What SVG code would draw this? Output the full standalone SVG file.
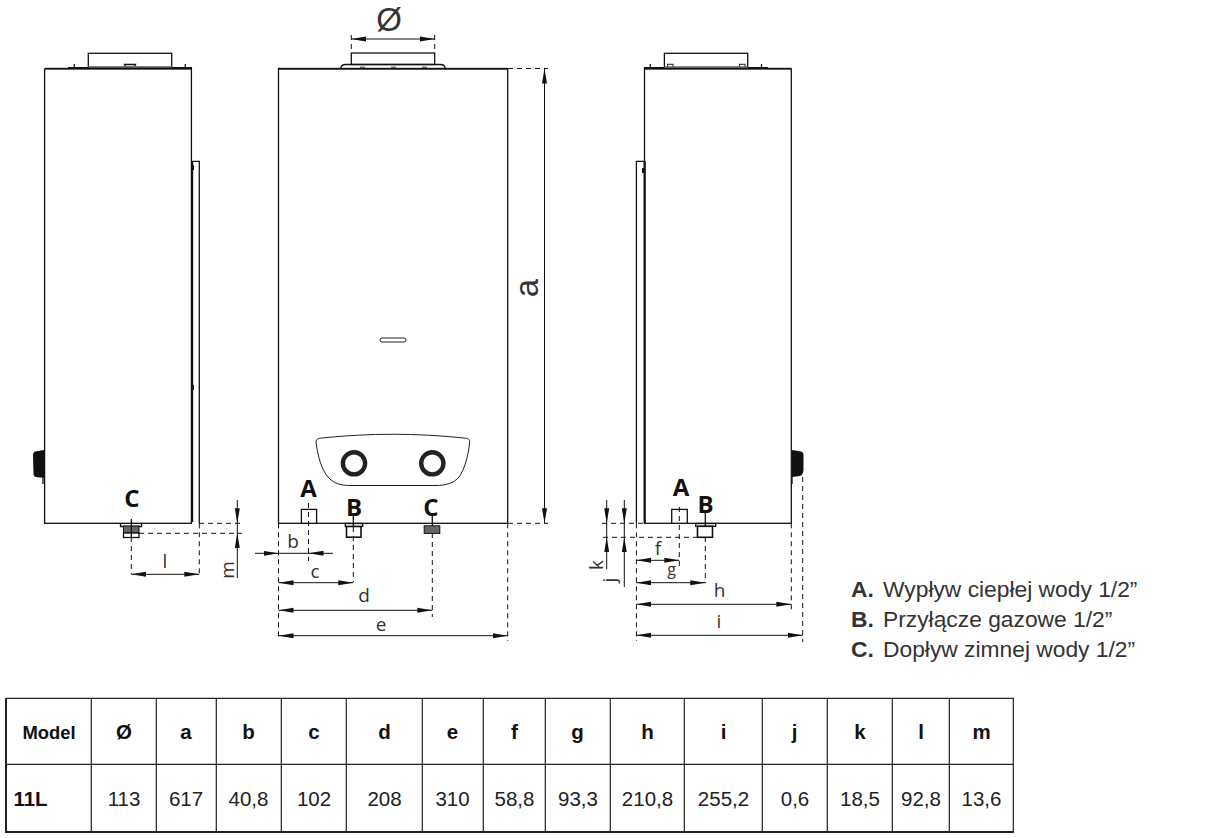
<svg xmlns="http://www.w3.org/2000/svg" width="1220" height="838" viewBox="0 0 1220 838">
<style>
.ln{fill:none;stroke:#111;stroke-width:1.3}
.wh{fill:#fff;stroke:#111;stroke-width:1.3}
.bar{fill:#111;stroke:none}
.dim{fill:none;stroke:#111;stroke-width:1;marker-end:url(#arr)}
.dimb{fill:none;stroke:#111;stroke-width:1;marker-start:url(#arr);marker-end:url(#arr)}
.thin{fill:none;stroke:#111;stroke-width:1}
.dash{fill:none;stroke:#111;stroke-width:1;stroke-dasharray:5 4}
.dl{font-family:"Open Sans","Noto Sans",sans-serif;font-size:19px;fill:#333;text-anchor:middle}
.big{font-family:"Liberation Sans",Arial,sans-serif;font-size:33px;fill:#333;text-anchor:middle}
.pt{font-family:"Open Sans","Noto Sans",sans-serif;font-weight:700;font-size:24px;fill:#111;text-anchor:middle}
.th{font-family:"Liberation Sans",Arial,sans-serif;font-weight:700;font-size:20.5px;fill:#111;text-anchor:middle}
.td{font-family:"Liberation Sans",Arial,sans-serif;font-size:20.5px;fill:#222;text-anchor:middle}
.lg{font-family:"Liberation Sans",Arial,sans-serif;font-size:22.8px;fill:#333}
.lb{font-weight:700}
.tb{fill:none;stroke:#222;stroke-width:1.2}
</style>
<defs>
<marker id="arr" markerUnits="userSpaceOnUse" markerWidth="16" markerHeight="7" refX="15" refY="3.5" orient="auto-start-reverse"><path d="M0,1 L15,3.5 L0,6 Z" fill="#111"/></marker>
</defs>
<rect width="1220" height="838" fill="#fff"/>

<g id="view-left">
<rect class="ln" x="88.3" y="53.3" width="83.4" height="14"/>
<path class="ln" d="M74.3,64V68M185.3,64V68"/>
<path class="ln" d="M124.5,64.5H135.5L134,67.500H126Z"/>
<rect class="bar" x="45" y="67.800" width="147" height="1.600"/>
<rect class="bar" x="68" y="67" width="124" height="2.400"/>
<rect x="88.3" y="66.2" width="83.4" height="1.4" fill="#777"/>
<rect class="wh" x="44.6" y="69" width="146.8" height="454.3"/>
<path class="ln" d="M192.3,161.3H199.3V523.3"/>
<rect class="bar" x="191" y="161" width="2.2" height="361"/>
<rect class="bar" x="191" y="385" width="3" height="5"/>
<rect class="bar" x="191" y="165" width="3" height="5"/>
<path d="M44,450L35,451.500Q33,452 33,455L33.500,474Q34,477 36,477L44,478Z" fill="#111"/>
<path d="M43,478V484" class="ln"/>
<path class="ln" d="M120.5,523.3V526.5H141.5V523.3"/>
<rect x="123.5" y="526" width="15.5" height="7" fill="#666" stroke="#111"/>
<rect class="wh" x="123.5" y="533" width="15.500" height="4.500"/>
<text class="pt" x="132" y="507">C</text>
<path class="ln" d="M131.3,519V537"/>
</g>

<g id="view-front">
<rect class="ln" x="351.3" y="53" width="83.4" height="11.5"/>
<path class="ln" d="M341,68C341,65 343,64.5 346,64.5H440C443,64.5 445,65 445,68"/>
<rect x="360" y="66.5" width="5" height="1.5" fill="#777"/>
<rect x="391" y="66.5" width="5" height="1.5" fill="#777"/>
<rect x="422" y="66.5" width="5" height="1.5" fill="#777"/>
<rect class="wh" x="278.5" y="68.7" width="229.2" height="454.6"/>
<rect class="bar" x="278" y="67.8" width="230" height="1.8"/>
<rect x="380" y="338" width="26" height="4" rx="2" fill="#fff" stroke="#222"/>
<path d="M316,442C316,439 318,438.5 322,438C370,433 416,433 464,438C468,438.500 470,439 469.700,442C468,458 464,470 459,477C454,483 446,485.500 436,485.500H350C340,485.500 333,483 328,477C322,470 318,458 316,442Z" fill="none" stroke="#222" stroke-width="1"/>
<circle cx="354" cy="463.3" r="11.1" fill="#fff" stroke="#222" stroke-width="4.4"/>
<circle cx="432.3" cy="463.3" r="11.1" fill="#fff" stroke="#222" stroke-width="4.4"/>
<rect class="wh" x="301.4" y="509.4" width="15.2" height="13.9"/>
<rect class="wh" x="345.3" y="523.5" width="17.4" height="3"/>
<rect class="wh" x="346.5" y="526.5" width="14.5" height="10.7" style="stroke-width:1.6"/>
<rect x="424.2" y="525.8" width="15.6" height="7.6" fill="#666" stroke="#111"/>
<text class="pt" x="308.5" y="497">A</text>
<text class="pt" x="354" y="516">B</text>
<text class="pt" x="431" y="516">C</text>
<path class="ln" d="M353.3,516V527M432.3,516V526"/>
</g>

<g id="view-right">
<rect class="ln" x="664.4" y="53.3" width="83.3" height="14"/>
<path class="ln" d="M650.3,64V68M761.5,64V68"/>
<rect x="667.5" y="64.3" width="5.5" height="2.8" fill="#fff" stroke="#222"/>
<rect x="739.5" y="64.3" width="5.5" height="2.8" fill="#fff" stroke="#222"/>
<rect class="bar" x="644" y="67" width="124" height="2.400"/>
<rect class="bar" x="768" y="67.800" width="23.500" height="1.600"/>
<rect x="664.4" y="66.4" width="83.3" height="1.4" fill="#777"/>
<rect class="wh" x="644.5" y="69" width="146.8" height="454.3"/>
<path class="ln" d="M644,161.3H636.4V523.3"/>
<rect class="bar" x="643.6" y="161" width="2.2" height="362"/>
<rect class="bar" x="642" y="168" width="3" height="5"/>
<path d="M792,450L801,451.500Q803.500,452 803.500,455L803.500,470Q803,475 800,476L792,477Z" fill="#111"/>
<path d="M792,477V484" class="ln"/>
<rect class="wh" x="671.7" y="509.4" width="15.6" height="13.9"/>
<rect class="wh" x="695.7" y="523.5" width="20" height="2.8"/>
<rect class="wh" x="697.5" y="526.3" width="15" height="11" style="stroke-width:1.6"/>
<text class="pt" x="681" y="496">A</text>
<text class="pt" x="705.5" y="513">B</text>
<path class="ln" d="M705.3,513V526"/>
</g>

<g id="connectors">
<path class="dash" d="M199.3,523.3V574M131.3,537V574M199,523.3H242M139,533.3H242"/>
<path class="dimb" d="M131.3,574.3H199.3"/>
<path class="thin" d="M237.3,523V534"/>
<path class="dim" d="M237.3,500V523.3"/>
<path class="dim" d="M237.3,578V533.3"/>

<path class="dash" d="M351.3,35V53M434.7,35V53"/>
<path class="dimb" d="M351.3,39H434.7"/>
<path class="dash" d="M508,68.5H548M508,523.3H548"/>
<path class="dimb" d="M544.5,68.5V523.3"/>
<path class="dash" d="M278.5,523.3V640M507.7,523.3V641M308.5,503V561M353.3,527V582M432.3,533V617"/>
<path class="thin" d="M278,553.3H309"/>
<path class="dim" d="M255,553.3H278.5"/>
<path class="dim" d="M333,553.3H308.5"/>
<path class="dimb" d="M278.5,582.7H353.3"/>
<path class="dimb" d="M278.5,610.3H432.3"/>
<path class="dimb" d="M278.5,635.7H507.7"/>

<path class="dash" d="M636.4,523.3V641M791.3,523.3V611M802.7,477V642M679.3,507V567M705.3,537V583M602,523.3H644M603,537.3H697"/>
<path class="dimb" d="M636.4,560.3H679.3"/>
<path class="dimb" d="M636.4,582.7H705.3"/>
<path class="dimb" d="M636.4,604.3H791.3"/>
<path class="dimb" d="M636.4,635.3H802.7"/>
<path class="thin" d="M606.7,523V538M624.3,523V538"/>
<path class="dim" d="M606.7,500V523.3"/>
<path class="dim" d="M606.7,569V537.3"/>
<path class="dim" d="M624.3,500V523.3"/>
<path class="dim" d="M624.3,587V537.3"/>
</g>

<g id="dimension-labels">
<text class="big" x="389" y="31">Ø</text>
<text class="big" transform="translate(538,288) rotate(-90)">a</text>
<text class="dl" x="293" y="548">b</text>
<text class="dl" x="315" y="578">c</text>
<text class="dl" x="364" y="602">d</text>
<text class="dl" x="381" y="631">e</text>
<text class="dl" x="165" y="568">l</text>
<text class="dl" transform="translate(234,570) rotate(-90)">m</text>
<text class="dl" x="658" y="555">f</text>
<text class="dl" x="671.5" y="575" style="font-size:16px">g</text>
<text class="dl" x="719.5" y="597">h</text>
<text class="dl" x="719" y="628">i</text>
<text class="dl" transform="translate(603,565) rotate(-90)">k</text>
<text class="dl" transform="translate(616,580) rotate(-90)">j</text>
</g>

<g id="legend">
<text class="lg" x="851" y="597"><tspan class="lb">A.</tspan><tspan x="883">Wypływ ciepłej wody 1/2”</tspan></text>
<text class="lg" x="851" y="627.3"><tspan class="lb">B.</tspan><tspan x="883">Przyłącze gazowe 1/2”</tspan></text>
<text class="lg" x="851" y="657.3"><tspan class="lb">C.</tspan><tspan x="883">Dopływ zimnej wody 1/2”</tspan></text>
</g>

<g id="table">
<path class="tb" d="M6,698.3H1013.3V831.5M6,764.3H1013.3M91.3,698.3V831.5M156.3,698.3V831.5M216.3,698.3V831.5M281.3,698.3V831.5M346.3,698.3V831.5M422.3,698.3V831.5M483.3,698.3V831.5M545.3,698.3V831.5M610.3,698.3V831.5M684.3,698.3V831.5M762.3,698.3V831.5M827.3,698.3V831.5M892.3,698.3V831.5M949.3,698.3V831.5"/>
<path d="M6,698V832H1014" fill="none" stroke="#222" stroke-width="2"/>
<text class="th" x="49" y="739" style="font-size:18.4px">Model</text>
<text class="th" x="124" y="739">Ø</text>
<text class="th" x="186" y="739">a</text>
<text class="th" x="248.500" y="739">b</text>
<text class="th" x="314" y="739">c</text>
<text class="th" x="384.500" y="739">d</text>
<text class="th" x="452.500" y="739">e</text>
<text class="th" x="514.500" y="739">f</text>
<text class="th" x="577.500" y="739">g</text>
<text class="th" x="647.500" y="739">h</text>
<text class="th" x="723.500" y="739">i</text>
<text class="th" x="794.500" y="739">j</text>
<text class="th" x="860" y="739">k</text>
<text class="th" x="921" y="739">l</text>
<text class="th" x="981.500" y="739">m</text>
<text class="th" x="30.500" y="805.700">11L</text>
<text class="td" x="124" y="805.700">113</text>
<text class="td" x="186" y="805.700">617</text>
<text class="td" x="248.500" y="805.700">40,8</text>
<text class="td" x="314" y="805.700">102</text>
<text class="td" x="384.500" y="805.700">208</text>
<text class="td" x="452.500" y="805.700">310</text>
<text class="td" x="514.500" y="805.700">58,8</text>
<text class="td" x="578" y="805.700">93,3</text>
<text class="td" x="647.500" y="805.700">210,8</text>
<text class="td" x="723.500" y="805.700">255,2</text>
<text class="td" x="795" y="805.700">0,6</text>
<text class="td" x="860" y="805.700">18,5</text>
<text class="td" x="921" y="805.700">92,8</text>
<text class="td" x="981.500" y="805.700">13,6</text>
</g>
</svg>
